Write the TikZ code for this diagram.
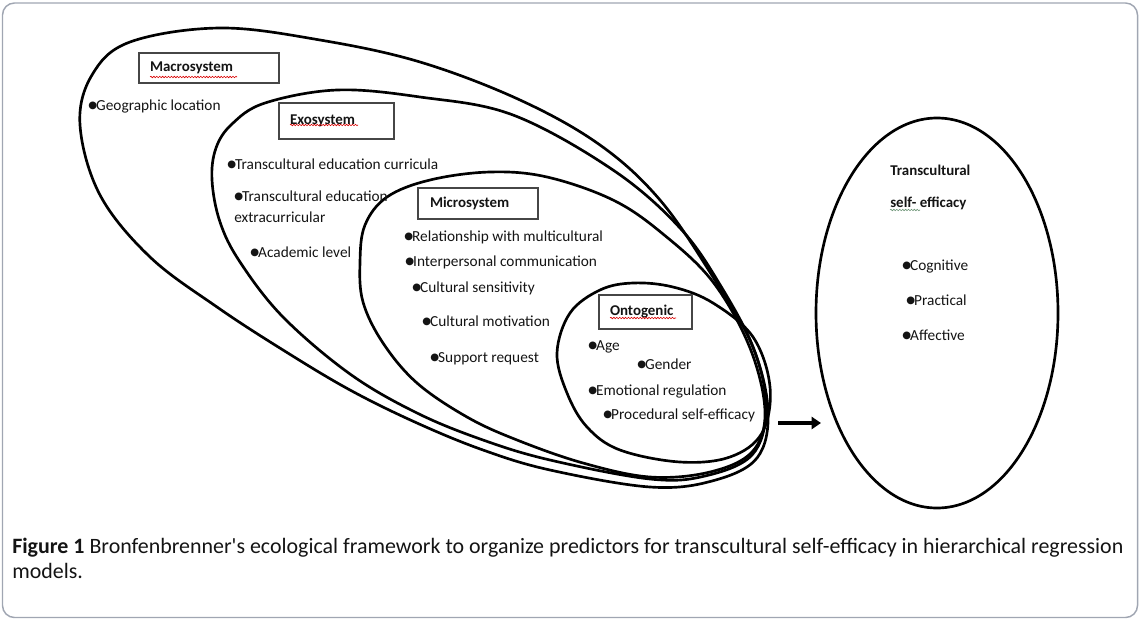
\documentclass[tikz,border=0pt]{standalone}
\usepackage{fontspec}
\setmainfont{Carlito}
\newfontfamily\dejavu{DejaVu Sans}
\usetikzlibrary{shapes.geometric, arrows.meta, decorations.pathmorphing}
\newcommand\mybul{\raisebox{1.3pt}{\dejavu\fontsize{7.6}{8}\selectfont ●}\kern-0.7pt}
\definecolor{framecol}{RGB}{160,166,178}
\definecolor{boxcol}{RGB}{70,70,70}
\definecolor{txt}{RGB}{20,20,20}
\definecolor{gramcol}{RGB}{110,150,120}
\begin{document}
\begin{tikzpicture}[x=0.75pt, y=-0.75pt,
  eco/.style={line width=2pt, black},
  item/.style={anchor=base west, inner sep=0pt, text=txt, font=\fontsize{11.5}{13}\selectfont},
  hitem/.style={item, font=\fontsize{11.2}{13}\selectfont\bfseries},
  sysbox/.style={draw=boxcol, line width=0.9pt, inner ysep=0pt, align=left, text=txt,
                 font=\fontsize{11.2}{13}\selectfont\bfseries},
  spell/.style={red!85!black, line width=0.45pt, decorate,
                decoration={snake, amplitude=0.55pt, segment length=2.2pt}},
  gram/.style={spell, gramcol},
  frame/.style={draw=framecol, line width=1.1pt, rounded corners=9pt}
]
\useasboundingbox (0,0) rectangle (1141,621);
\draw[frame] (2.5,3) rectangle (1137.5,617.5);

% Macrosystem
\draw[eco] plot[smooth cycle, tension=0.6] coordinates {
  (80,125) (92,75) (130,42) (220,28) (320,40) (420,62) (520,100) (600,145)
  (660,200) (713,277) (752,345) (768,410) (757,458) (712,481) (650,487)
  (550,470) (483,450) (417,423) (350,390) (283,350) (217,307) (150,257) (100,195)};
% Exosystem
\draw[eco] plot[smooth cycle, tension=0.6] coordinates {
  (212,180) (216,148) (232,124) (265,103) (337,90) (420,97) (513,115) (613,170)
  (680,228) (722,288) (755,352) (766,410) (752,455) (705,476) (650,479)
  (550,460) (483,440) (417,413) (350,374) (283,317) (240,262) (220,222)};
% Microsystem
\draw[eco] plot[smooth cycle, tension=0.6] coordinates {
  (360,262) (365,225) (387,197) (430,180) (490,172) (547,177) (613,200)
  (663,234) (713,282) (750,348) (765,412) (752,452) (710,472) (650,477)
  (583,463) (517,440) (467,417) (417,383) (383,343) (363,302)};
% Ontogenic
\draw[eco] plot[smooth cycle, tension=0.6] coordinates {
  (633,283) (673,287) (713,303) (753,337) (770,387) (762,433) (730,457)
  (680,462) (620,450) (587,427) (567,393) (557,353) (570,313) (600,290)};

% boxes
\node[sysbox, minimum width=105pt, minimum height=22.5pt, inner xsep=8.25pt, text width=88.5pt]
  (macro) at (209,68) {Macrosystem};
\node[sysbox, minimum width=86.25pt, minimum height=27pt, inner xsep=8.25pt, text width=69.75pt]
  (exo) at (336.5,121) {Exosystem};
\node[sysbox, minimum width=90pt, minimum height=23.25pt, inner xsep=9pt, text width=72pt]
  (micro) at (478,203.5) {Microsystem};
\node[sysbox, minimum width=69.75pt, minimum height=25.5pt, inner xsep=8.25pt, text width=53.25pt]
  (onto) at (645.5,312) {Ontogenic};

\draw[spell] (150,77) -- (237,77);
\draw[spell] (290,125) -- (358,125);
\draw[spell] (610,318) -- (676,318);
\draw[gram] (890,210) -- (920,210);

% items
\node[item] (geo) at (88,110) {\mybul Geographic location};
\node[item] (tec) at (227,169) {\mybul Transcultural education curricula};
\node[item] (tee) at (234,201) {\mybul Transcultural education};
\node[item] (tee2) at (234,222) {extracurricular};
\node[item] (acad) at (250,257) {\mybul Academic level};
\node[item] (rel) at (404,241) {\mybul Relationship with multicultural};
\node[item] (inter) at (405,266) {\mybul Interpersonal communication};
\node[item] (sens) at (412,292) {\mybul Cultural sensitivity};
\node[item] (motiv) at (422,326) {\mybul Cultural motivation};
\node[item] (supp) at (430,362) {\mybul Support request};
\node[item] (age) at (588,350) {\mybul Age};
\node[item] (gend) at (637,369) {\mybul Gender};
\node[item] (emo) at (588,395) {\mybul Emotional regulation};
\node[item] (proc) at (603,419) {\mybul Procedural self-efficacy};

% outcome ellipse
\node[draw, ellipse, line width=2pt, minimum width=181.5pt, minimum height=292.5pt, inner sep=0pt]
  (tse) at (937,313) {};
\node[hitem] (tset1) at (890,175) {Transcultural};
\node[hitem] (tset2) at (890,207) {self- efficacy};
\node[item] (cog) at (902,270) {\mybul Cognitive};
\node[item] (prac) at (906,305) {\mybul Practical};
\node[item] (aff) at (902,340) {\mybul Affective};

% arrow
\coordinate (aS) at (778,423);
\coordinate (aE) at (821,423);
\draw[line width=3pt, -{Triangle[length=7pt,width=9pt]}] (aS) -- (aE);

% caption
\node[anchor=north west, inner sep=0pt, align=left, text=txt,
      font=\fontsize{16.45}{18.5}\selectfont] (cap) at (12,538)
  {\textbf{Figure 1} Bronfenbrenner\textquotesingle s ecological framework to organize predictors for transcultural self-efficacy in hierarchical regression\\models.};
\end{tikzpicture}
\end{document}
